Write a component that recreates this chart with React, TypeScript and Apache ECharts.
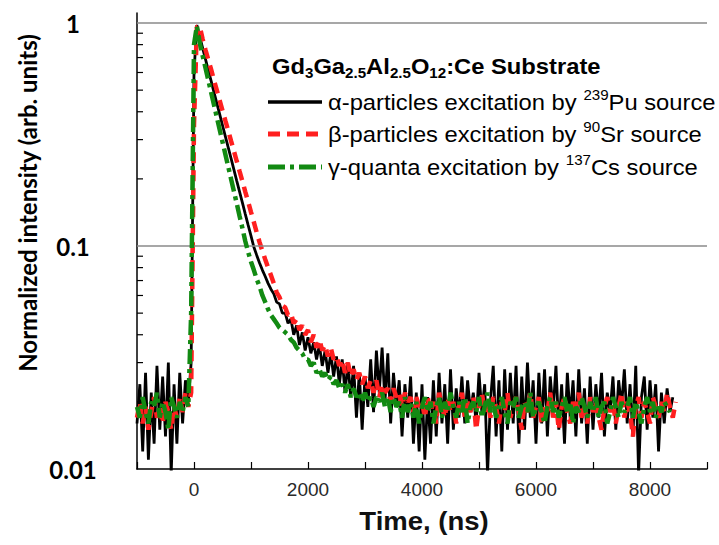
import React, { useEffect, useRef } from "react";
import * as echarts from "echarts";

// Sampling grid of the recorded decays (ns)
const TIME_START = -1000;
const TIME_STEP = 50;

const X_MIN = -1000;
const X_MAX = 9000;
const X_INTERVAL = 1000;
const X_LABEL_EVERY = 2000;

const Y_MIN = 0.01;
const Y_MAX = 1.109;
const Y_LABELS: Record<string, string> = { "-2": "0.01", "-1": "0.1", "0": "1" };
const Y_GRID_LINES = [1, 0.1];
const Y_MINOR_TICKS = [
  0.02, 0.03, 0.04, 0.05, 0.06, 0.07, 0.08, 0.09,
  0.2, 0.3, 0.4, 0.5, 0.6, 0.7, 0.8, 0.9,
];

// alpha-particles (239Pu)
const ALPHA = [
  0.016, 0.024, 0.012, 0.027, 0.011, 0.022, 0.013, 0.029, 0.015, 0.026,
  0.014, 0.030, 0.0095, 0.024, 0.013, 0.027, 0.016, 0.025, 0.020, 0.030,
  0.60, 0.98, 0.87, 0.775, 0.69, 0.615, 0.55, 0.49, 0.437, 0.39,
  0.348, 0.31, 0.277, 0.247, 0.22, 0.196, 0.175, 0.156, 0.139, 0.124,
  0.111, 0.099, 0.091, 0.084, 0.078, 0.073, 0.068, 0.064, 0.061, 0.056,
  0.055, 0.050, 0.050, 0.045, 0.047, 0.040, 0.044, 0.036, 0.041, 0.034,
  0.039, 0.033, 0.037, 0.031, 0.036, 0.029, 0.034, 0.027, 0.033, 0.026,
  0.032, 0.024, 0.031, 0.022, 0.030, 0.021, 0.029, 0.017, 0.027, 0.015,
  0.026, 0.019, 0.031, 0.018, 0.034, 0.022, 0.035, 0.020, 0.033, 0.016,
  0.027, 0.019, 0.025, 0.014, 0.024, 0.017, 0.026, 0.013, 0.022, 0.012,
  0.024, 0.011, 0.021, 0.013, 0.025, 0.014, 0.027, 0.016, 0.024, 0.013,
  0.028, 0.015, 0.023, 0.017, 0.026, 0.016, 0.025, 0.018, 0.022, 0.016,
  0.027, 0.018, 0.024, 0.0095, 0.020, 0.029, 0.014, 0.025, 0.012, 0.028,
  0.015, 0.027, 0.016, 0.029, 0.013, 0.026, 0.015, 0.030, 0.017, 0.025,
  0.013, 0.027, 0.016, 0.028, 0.014, 0.026, 0.018, 0.029, 0.015, 0.024,
  0.013, 0.027, 0.017, 0.025, 0.014, 0.028, 0.016, 0.023, 0.013, 0.026,
  0.015, 0.024, 0.017, 0.027, 0.014, 0.022, 0.018, 0.026, 0.015, 0.025,
  0.019, 0.028, 0.016, 0.024, 0.014, 0.029, 0.0095, 0.021, 0.026, 0.015,
  0.025, 0.017, 0.024, 0.012, 0.022, 0.016, 0.023, 0.018, 0.021,
];

// beta-particles (90Sr)
const BETA = [
  0.017, 0.020, 0.016, 0.019, 0.015, 0.018, 0.021, 0.017, 0.019, 0.016,
  0.020, 0.018, 0.015, 0.019, 0.017, 0.021, 0.018, 0.022, 0.019, 0.022,
  0.35, 0.96, 0.97, 0.85, 0.76, 0.685, 0.62, 0.555, 0.50, 0.45,
  0.405, 0.365, 0.33, 0.296, 0.267, 0.24, 0.216, 0.195, 0.175, 0.158,
  0.142, 0.128, 0.115, 0.104, 0.095, 0.087, 0.080, 0.074, 0.068, 0.062,
  0.059, 0.054, 0.053, 0.049, 0.050, 0.045, 0.047, 0.042, 0.044, 0.040,
  0.042, 0.037, 0.040, 0.035, 0.038, 0.034, 0.036, 0.032, 0.035, 0.031,
  0.032, 0.029, 0.031, 0.027, 0.030, 0.026, 0.028, 0.025, 0.027, 0.024,
  0.026, 0.023, 0.025, 0.022, 0.025, 0.021, 0.024, 0.022, 0.023, 0.020,
  0.023, 0.021, 0.022, 0.019, 0.022, 0.020, 0.021, 0.018, 0.021, 0.019,
  0.020, 0.017, 0.021, 0.018, 0.020, 0.016, 0.022, 0.019, 0.017, 0.021,
  0.018, 0.020, 0.016, 0.019, 0.022, 0.017, 0.020, 0.018, 0.021, 0.015,
  0.019, 0.022, 0.018, 0.020, 0.017, 0.021, 0.019, 0.016, 0.020, 0.018,
  0.022, 0.017, 0.019, 0.021, 0.018, 0.015, 0.020, 0.018, 0.022, 0.017,
  0.019, 0.021, 0.016, 0.019, 0.018, 0.022, 0.017, 0.020, 0.015, 0.019,
  0.021, 0.018, 0.016, 0.020, 0.018, 0.022, 0.017, 0.019, 0.016, 0.021,
  0.018, 0.020, 0.017, 0.015, 0.019, 0.021, 0.018, 0.020, 0.016, 0.019,
  0.022, 0.017, 0.020, 0.018, 0.014, 0.019, 0.021, 0.017, 0.020, 0.018,
  0.016, 0.021, 0.019, 0.017, 0.020, 0.018, 0.022, 0.019, 0.017, 0.020,
];

// gamma-quanta (137Cs)
const GAMMA = [
  0.019, 0.017, 0.021, 0.018, 0.016, 0.020, 0.019, 0.022, 0.017, 0.020,
  0.018, 0.015, 0.021, 0.019, 0.017, 0.020, 0.018, 0.021, 0.019, 0.05,
  0.80, 0.97, 0.815, 0.717, 0.631, 0.555, 0.489, 0.43, 0.378, 0.333,
  0.293, 0.258, 0.227, 0.20, 0.176, 0.155, 0.136, 0.120, 0.105, 0.094,
  0.085, 0.078, 0.071, 0.066, 0.060, 0.056, 0.052, 0.049, 0.047, 0.045,
  0.043, 0.042, 0.041, 0.040, 0.038, 0.037, 0.035, 0.034, 0.033, 0.031,
  0.031, 0.029, 0.030, 0.027, 0.028, 0.026, 0.027, 0.025, 0.026, 0.024,
  0.025, 0.023, 0.024, 0.022, 0.024, 0.021, 0.023, 0.021, 0.022, 0.020,
  0.022, 0.020, 0.021, 0.019, 0.021, 0.020, 0.022, 0.019, 0.021, 0.018,
  0.021, 0.019, 0.020, 0.017, 0.021, 0.018, 0.020, 0.017, 0.020, 0.016,
  0.019, 0.021, 0.018, 0.020, 0.016, 0.019, 0.021, 0.017, 0.020, 0.018,
  0.022, 0.019, 0.017, 0.020, 0.018, 0.021, 0.016, 0.019, 0.020, 0.018,
  0.021, 0.017, 0.019, 0.022, 0.018, 0.020, 0.017, 0.019, 0.021, 0.018,
  0.016, 0.020, 0.019, 0.021, 0.017, 0.019, 0.020, 0.018, 0.022, 0.017,
  0.019, 0.020, 0.018, 0.016, 0.019, 0.021, 0.018, 0.020, 0.017, 0.019,
  0.021, 0.018, 0.020, 0.016, 0.019, 0.018, 0.021, 0.019, 0.017, 0.020,
  0.018, 0.021, 0.017, 0.019, 0.020, 0.016, 0.018, 0.021, 0.019, 0.017,
  0.020, 0.018, 0.019, 0.021, 0.017, 0.020, 0.018, 0.016, 0.019, 0.021,
  0.018, 0.020, 0.017, 0.019, 0.018, 0.020, 0.019, 0.018,
];

const SERIES_NAMES = [
  "α-particles excitation by 239Pu source",
  "β-particles excitation by 90Sr source",
  "γ-quanta excitation by 137Cs source",
];

const BLACK = "#000000";
const RED = "#ff1f1f";
const GREEN = "#128a12";

const toPoints = (vals: number[]) =>
  vals.map((v, i) => [TIME_START + i * TIME_STEP, v]);

const SANS = "'Liberation Sans', Arial, sans-serif";
const HUMANIST = "Lato, 'Open Sans', sans-serif";

const richLegend = {
  t: { fontSize: 22, fontFamily: SANS, color: "#222", lineHeight: 28 },
  sup: { fontSize: 14, fontFamily: SANS, color: "#222", verticalAlign: "top" },
};

const richTitle = {
  b: { fontSize: 22, fontWeight: "bold", fontFamily: SANS, color: "#111", lineHeight: 28 },
  s: { fontSize: 14, fontWeight: "bold", fontFamily: SANS, color: "#111", verticalAlign: "bottom" },
};

export default function App() {
  const ref = useRef<HTMLDivElement>(null);

  useEffect(() => {
    if (!ref.current) return;
    const chart = echarts.init(ref.current, undefined, { renderer: "svg" });

    const legendX1 = 268;
    const legendX2 = 322;
    const textX = 328;
    const rows = [102, 134, 167];
    const stretch = 1.08;

    const option: any = {
      animation: false,
      backgroundColor: "#ffffff",
      grid: { left: 137, right: 12, top: 13, bottom: 76, containLabel: false, outerBoundsMode: "none" },
      xAxis: {
        type: "value",
        min: X_MIN,
        max: X_MAX,
        interval: X_INTERVAL,
        axisLine: { show: true, onZero: false, lineStyle: { color: "#000", width: 1.5 } },
        axisTick: { show: true, inside: true, length: 7, lineStyle: { color: "#000", width: 1.2 } },
        axisLabel: {
          fontSize: 19,
          fontFamily: SANS,
          color: "#2a2a2a",
          margin: 11,
          formatter: (v: number) => (v >= 0 && v % X_LABEL_EVERY === 0 ? String(v) : ""),
        },
        splitLine: { show: false },
      },
      yAxis: {
        type: "log",
        min: Y_MIN,
        max: Y_MAX,
        logBase: 10,
        axisLine: { show: true, onZero: false, lineStyle: { color: "#000", width: 1.5 } },
        axisTick: { show: false },
        splitLine: { show: false },
        axisLabel: {
          fontSize: 24,
          fontWeight: "bold",
          fontFamily: HUMANIST,
          color: "#000",
          align: "center",
          margin: 64,
          formatter: (v: number) => {
            const l = Math.log10(v);
            const r = Math.round(l);
            if (Math.abs(l - r) > 1e-6) return "";
            return Y_LABELS[String(r)] ?? "";
          },
        },
      },
      graphic: [
        {
          type: "text",
          x: 27,
          y: 203,
          rotation: Math.PI / 2,
          style: {
            text: "Normalized intensity (arb. units)",
            fontSize: 24,
            fontWeight: "bold",
            fontFamily: HUMANIST,
            fill: "#000",
            align: "center",
            verticalAlign: "middle",
          },
        },
        {
          type: "text",
          x: 424,
          y: 521,
          scaleX: 1.1,
          style: {
            text: "Time, (ns)",
            fontSize: 25,
            fontWeight: "bold",
            fontFamily: SANS,
            fill: "#111",
            align: "center",
            verticalAlign: "middle",
          },
        },
        {
          type: "text",
          x: 272,
          y: 66,
          scaleX: stretch,
          style: {
            text: "{b|Gd}{s|3}{b|Ga}{s|2.5}{b|Al}{s|2.5}{b|O}{s|12}{b|:Ce Substrate}",
            rich: richTitle,
            verticalAlign: "middle",
          },
        },
        { type: "line", shape: { x1: legendX1, y1: rows[0], x2: legendX2, y2: rows[0] }, style: { stroke: BLACK, lineWidth: 3.5 } },
        { type: "line", shape: { x1: legendX1, y1: rows[1], x2: legendX2, y2: rows[1] }, style: { stroke: RED, lineWidth: 5, lineDash: [12, 7] } },
        { type: "line", shape: { x1: legendX1, y1: rows[2], x2: legendX2, y2: rows[2] }, style: { stroke: GREEN, lineWidth: 5, lineDash: [17, 5, 4, 5] } },
        {
          type: "text", x: textX, y: rows[0], scaleX: stretch,
          style: { text: "{t|α-particles excitation by }{sup|239}{t|Pu source}", rich: richLegend, verticalAlign: "middle" },
        },
        {
          type: "text", x: textX, y: rows[1], scaleX: stretch,
          style: { text: "{t|β-particles excitation by }{sup|90}{t|Sr source}", rich: richLegend, verticalAlign: "middle" },
        },
        {
          type: "text", x: textX, y: rows[2], scaleX: stretch,
          style: { text: "{t|γ-quanta excitation by }{sup|137}{t|Cs source}", rich: richLegend, verticalAlign: "middle" },
        },
      ],
      series: [
        {
          name: "gridlines",
          type: "line",
          data: [],
          silent: true,
          z: 1,
          markLine: {
            silent: true,
            symbol: ["none", "none"],
            label: { show: false },
            lineStyle: { color: "#8a8a8a", width: 1.5, type: "solid" },
            data: Y_GRID_LINES.map((v) => ({ yAxis: v })),
          },
        },
        {
          name: "minorTicks",
          type: "custom",
          silent: true,
          z: 1,
          data: Y_MINOR_TICKS.map((v) => [X_MIN, v]),
          renderItem: (_p: any, api: any) => {
            const pt = api.coord([api.value(0), api.value(1)]);
            return {
              type: "line",
              shape: { x1: pt[0], y1: pt[1], x2: pt[0] + 6, y2: pt[1] },
              style: { stroke: "#000", lineWidth: 1.2 },
            };
          },
        },
        {
          name: SERIES_NAMES[0],
          type: "line",
          data: toPoints(ALPHA),
          showSymbol: false,
          z: 3,
          lineStyle: { color: BLACK, width: 2.8 },
        },
        {
          name: SERIES_NAMES[1],
          type: "line",
          data: toPoints(BETA),
          showSymbol: false,
          z: 4,
          lineStyle: { color: RED, width: 4.5, type: [11, 7] },
        },
        {
          name: SERIES_NAMES[2],
          type: "line",
          data: toPoints(GAMMA),
          showSymbol: false,
          z: 5,
          lineStyle: { color: GREEN, width: 4.5, type: [15, 5, 4, 5] },
        },
      ],
    };

    chart.setOption(option);
    return () => chart.dispose();
  }, []);

  return (
    <div
      ref={ref}
      style={{ position: "fixed", left: 0, top: 0, width: 719, height: 545, background: "#fff" }}
    />
  );
}
